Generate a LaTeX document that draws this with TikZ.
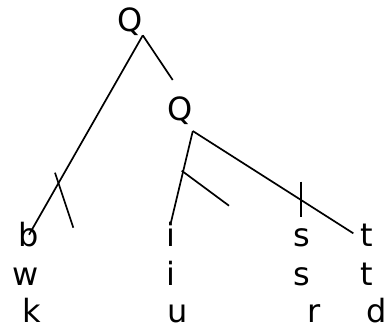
\documentclass[tikz,border=0pt]{standalone}
\usepackage{fontspec}
\setmainfont{DejaVu Sans}

\begin{document}
\begin{tikzpicture}
  [x=1pt,y=-1pt,
   word/.style={inner sep=0pt,anchor=base,font=\fontsize{32}{38}\selectfont},
   branch/.style={line width=1.7pt}]
  \useasboundingbox (0,0) rectangle (387,325);
  \node[word] (root) at (130,31) {Q};
  \node[word] (inner) at (180,120.7) {Q};

  \node[word] (b) at (29,246.7) {b};
  \node[word] (w) at (26,285) {w};
  \node[word] (k) at (32,322) {k};
  \node[word] (i1) at (171,246.7) {i};
  \node[word] (i2) at (171,285) {i};
  \node[word] (u) at (178,322) {u};
  \node[word] (s1) at (302,246.7) {s};
  \node[word] (s2) at (302,285) {s};
  \node[word] (r) at (314,322) {r};
  \node[word] (t1) at (367,246.7) {t};
  \node[word] (t2) at (367,285) {t};
  \node[word] (d) at (376.5,322) {d};

  \coordinate (rootend) at (172.7,80);
  \coordinate (innerend) at (353.3,233.3);
  \draw[branch] (root.south east) -- (b.center);
  \draw[branch] (root.south east) -- (rootend);
  \draw[branch] ([yshift=-6pt]inner.south east) -- (i1.north);
  \draw[branch] ([yshift=-6pt]inner.south east) -- (innerend);

  \draw[branch] (55,172.7) -- (73.3,227.7);
  \draw[branch] (181.7,170.7) -- (229,205.7);
  \draw[branch] (301,181.7) -- (301,216.7);
\end{tikzpicture}
\end{document}
